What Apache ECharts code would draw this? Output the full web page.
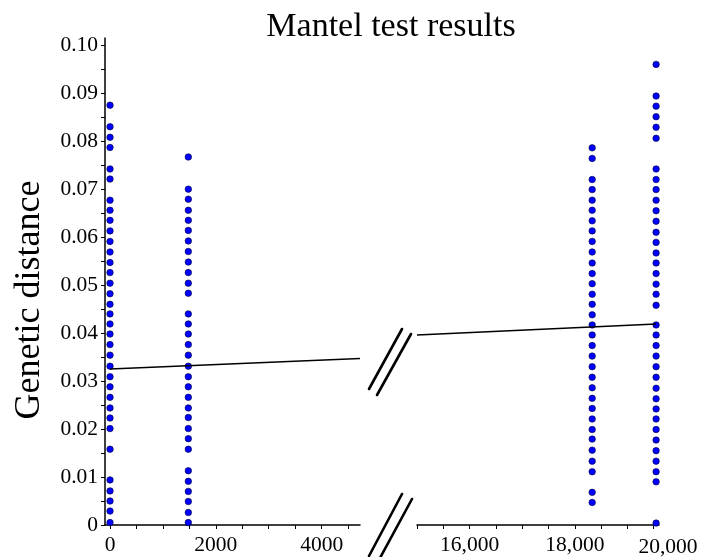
<!DOCTYPE html>
<html>
<head>
<meta charset="utf-8">
<script src="https://cdn.jsdelivr.net/npm/echarts@6/dist/echarts.min.js"></script>
<style>html,body{margin:0;padding:0;background:#fff;}#c{width:704px;height:557px;}</style>
</head>
<body>
<div id="c"></div>
<script>
// ---- data ----
const titleText = 'Mantel test results';
const yAxisName = 'Genetic distance';

const col1X = 0;
const col1Y = [0.0875,0.0830,0.0808,0.0787,0.0742,0.0721,0.0677,0.0656,0.0635,0.0613,0.0591,0.0569,0.0547,0.0526,0.0504,0.0482,0.0460,0.0440,0.0419,0.0398,0.0376,0.0354,0.0331,0.0309,0.0288,0.0266,0.0244,0.0223,0.0201,0.0158,0.0094,0.0071,0.0050,0.0029,0.0005];
const col2X = 1480;
const col2Y = [0.0767,0.0700,0.0679,0.0656,0.0635,0.0614,0.0592,0.0570,0.0548,0.0526,0.0504,0.0483,0.0440,0.0419,0.0398,0.0376,0.0354,0.0331,0.0309,0.0288,0.0266,0.0244,0.0224,0.0201,0.0180,0.0158,0.0113,0.0091,0.0070,0.0049,0.0026,0.0005];
const col3X = 18330;
const col3Y = [0.0786,0.0764,0.0720,0.0699,0.0677,0.0656,0.0634,0.0613,0.0591,0.0569,0.0546,0.0524,0.0503,0.0481,0.0460,0.0438,0.0417,0.0396,0.0374,0.0352,0.0330,0.0308,0.0286,0.0264,0.0243,0.0221,0.0199,0.0179,0.0156,0.0133,0.0111,0.0068,0.0047];
const col4X = 19545;
const col4Y = [0.0960,0.0894,0.0873,0.0851,0.0829,0.0806,0.0742,0.0720,0.0699,0.0677,0.0655,0.0633,0.0610,0.0589,0.0567,0.0546,0.0524,0.0502,0.0481,0.0458,0.0417,0.0396,0.0374,0.0352,0.0330,0.0308,0.0285,0.0263,0.0242,0.0221,0.0199,0.0177,0.0155,0.0133,0.0111,0.0090,0.0004];

const fitLeft = [[0,0.0325],[4725,0.0347]];
const fitRight = [[15000,0.0396],[19545,0.0419]];

const yTickValues = [0,0.005,0.01,0.015,0.02,0.025,0.03,0.035,0.04,0.045,0.05,0.055,0.06,0.065,0.07,0.075,0.08,0.085,0.09,0.095,0.1];
const yLabelValues = [0,0.01,0.02,0.03,0.04,0.05,0.06,0.07,0.08,0.09,0.1];
const yLabels = ['0','0.01','0.02','0.03','0.04','0.05','0.06','0.07','0.08','0.09','0.10'];

const leftXTickValues = [0,500,1000,1500,2000,2500,3000,3500,4000,4500];
const leftXLabelValues = [0,2000,4000];
const leftXLabels = ['0','2000','4000'];

const rightXTickValues = [15000,15500,16000,16500,17000,17500,18000,18500,19000,19500];
const rightXLabelValues = [16000,18000];
const rightXLabels = ['16,000','18,000'];
const rightEndLabelValue = 20000;
const rightEndLabel = '20,000';

// ---- chart ----
const FONT = '"Liberation Serif", "Times New Roman", serif';
const chart = echarts.init(document.getElementById('c'), null, {renderer:'canvas'});

function pts(x, ys){ return ys.map(v => [x, v]); }
function lookup(vals, labels){ return v => { const i = vals.findIndex(t => Math.abs(t - v) < 1e-9); return i >= 0 ? labels[i] : ''; }; }

const axisLineStyle = {color:'#000', width:1.5};
const yMin = 0, yMax = 0.1015;
const LABEL_SIZE = 21.5;

const dotStyle = {color:'#0000ff', borderColor:'#000033', borderWidth:0.6, opacity:1};

chart.setOption({
  animation:false,
  backgroundColor:'#fff',
  title:{text:titleText, left:386, top:5, textAlign:'center',
    textStyle:{fontFamily:FONT, fontSize:34, fontWeight:'normal', color:'#000'}},
  grid:[
    {left:105, top:38, width:255, height:487},
    {left:417, top:38, width:242, height:487}
  ],
  xAxis:[
    {type:'value', gridIndex:0, min:-95, max:4725,
      axisLine:{show:true, onZero:false, lineStyle:axisLineStyle},
      axisTick:{show:true, inside:false, length:4, customValues:leftXTickValues, lineStyle:{color:'#000', width:1}},
      axisLabel:{customValues:leftXLabelValues, formatter:lookup(leftXLabelValues,leftXLabels), margin:9,
        fontFamily:FONT, fontSize:LABEL_SIZE, color:'#000'},
      splitLine:{show:false}},
    {type:'value', gridIndex:1, min:15000, max:19600,
      axisLine:{show:true, onZero:false, lineStyle:axisLineStyle},
      axisTick:{show:true, inside:false, length:4, customValues:rightXTickValues, lineStyle:{color:'#000', width:1}},
      axisLabel:{customValues:rightXLabelValues, formatter:lookup(rightXLabelValues,rightXLabels), margin:9,
        fontFamily:FONT, fontSize:LABEL_SIZE, color:'#000'},
      splitLine:{show:false}}
  ],
  yAxis:[
    {type:'value', gridIndex:0, min:yMin, max:yMax,
      axisLine:{show:true, onZero:false, lineStyle:axisLineStyle},
      axisTick:{show:true, inside:false, length:4, customValues:yTickValues, lineStyle:{color:'#000', width:1}},
      axisLabel:{customValues:yLabelValues, formatter:lookup(yLabelValues,yLabels), margin:7,
        fontFamily:FONT, fontSize:LABEL_SIZE, color:'#000'},
      splitLine:{show:false}},
    {type:'value', gridIndex:1, min:yMin, max:yMax, show:false, splitLine:{show:false}}
  ],
  series:[
    {type:'scatter', xAxisIndex:0, yAxisIndex:0, data:pts(col1X,col1Y), symbolSize:6.5, itemStyle:dotStyle, z:2},
    {type:'scatter', xAxisIndex:0, yAxisIndex:0, data:pts(col2X,col2Y), symbolSize:6.5, itemStyle:dotStyle, z:2},
    {type:'scatter', xAxisIndex:1, yAxisIndex:1, data:pts(col3X,col3Y), symbolSize:6.5, itemStyle:dotStyle, z:2},
    {type:'scatter', xAxisIndex:1, yAxisIndex:1, data:pts(col4X,col4Y), symbolSize:6.5, itemStyle:dotStyle, z:2},
    {type:'line', xAxisIndex:0, yAxisIndex:0, data:fitLeft, showSymbol:false, symbol:'none',
      lineStyle:{color:'#000', width:1.5}, z:3},
    {type:'line', xAxisIndex:1, yAxisIndex:1, data:fitRight, showSymbol:false, symbol:'none',
      lineStyle:{color:'#000', width:1.5}, z:3}
  ]
});

// axis name, axis-break marks and the end label of the right-hand axis
const endX = chart.convertToPixel({xAxisIndex:1}, rightEndLabelValue);
const baseY = chart.convertToPixel({yAxisIndex:0}, 0);
const brk = {stroke:'#000', lineWidth:2.6, lineCap:'round'};
chart.setOption({
  graphic:[
    {type:'text', x:30, y:300, rotation:Math.PI/2,
      style:{text:yAxisName, fontFamily:FONT, fontSize:36, fill:'#000', align:'center', verticalAlign:'middle'}},
    {type:'line', shape:{x1:369,y1:389,x2:402,y2:329}, style:brk},
    {type:'line', shape:{x1:377,y1:395,x2:411,y2:334}, style:brk},
    {type:'line', shape:{x1:369,y1:556,x2:402,y2:494}, style:brk},
    {type:'line', shape:{x1:380,y1:558,x2:412,y2:499}, style:brk},
    {type:'text', x:endX - 12, y:baseY + 22,
      style:{text:rightEndLabel, fontFamily:FONT, fontSize:LABEL_SIZE, fill:'#000', align:'center', verticalAlign:'middle'}}
  ]
});
</script>
</body>
</html>
